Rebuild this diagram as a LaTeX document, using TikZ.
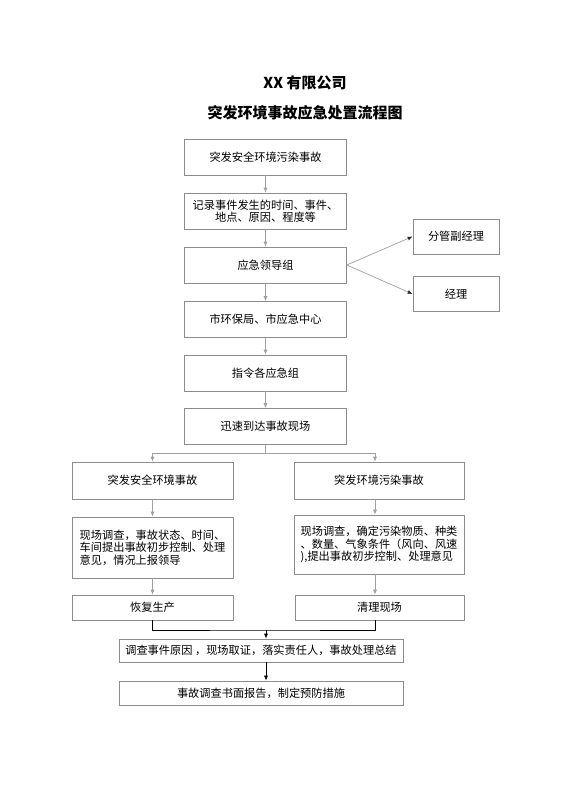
\documentclass[tikz,border=0pt]{standalone}
\usepackage{fontspec}
\newfontfamily\cjk{Noto Sans CJK SC}
\usetikzlibrary{arrows.meta}

\definecolor{boxline}{HTML}{8C8C8C}
\definecolor{linkline}{HTML}{A0A0A0}

\tikzset{
  box/.style={draw=boxline, line width=0.7pt, minimum width=162pt, minimum height=36pt,
    inner sep=2pt, align=center, font=\cjk\fontsize{11.2}{12.5}\selectfont},
  heading/.style={font=\cjk\bfseries\fontsize{15}{18}\selectfont},
  link/.style={draw=linkline, line width=0.7pt, -{Latex[length=5pt,width=4pt]}},
  sidelink/.style={draw=linkline, line width=0.7pt, -{Latex[length=5pt,width=4pt,color=black!85]}},
  flow/.style={draw=black, line width=0.7pt, -{Latex[length=5pt,width=4pt]}},
}

\begin{document}
\begin{tikzpicture}[x=1pt,y=-1pt]
    \useasboundingbox[fill=white] (0,0) rectangle (560,792);

    \node[heading] (company) at (305,83) {XX 有限公司};
    \node[heading] (title) at (305,113) {突发环境事故应急处置流程图};

    \node[box] (event) at (265.5,157) {突发安全环境污染事故};
    \node[box] (record) at (265.5,211) {记录事件发生的时间、事件、\\地点、原因、程度等};
    \node[box] (lead) at (265.5,265) {应急领导组};
    \node[box] (city) at (265.5,319.5) {市环保局、市应急中心};
    \node[box] (order) at (265.5,373) {指令各应急组};
    \node[box] (arrive) at (265.5,426.5) {迅速到达事故现场};

    \node[box, minimum width=86pt, minimum height=35pt] (deputy) at (456,236.5) {分管副经理};
    \node[box, minimum width=86pt, minimum height=35pt] (manager) at (456,294) {经理};

    \node[box, minimum width=161pt, minimum height=37pt] (safety) at (152.5,480.5) {突发安全环境事故};
    \node[box, minimum width=170pt, minimum height=37pt] (pollute) at (379,480.5) {突发环境污染事故};
    \node[box, minimum width=161pt, minimum height=61pt, align=left] (survey) at (152.5,547.5)
      {现场调查，事故状态、时间、\\车间提出事故初步控制、处理\\意见，情况上报领导};
    \node[box, minimum width=170pt, minimum height=59pt, align=left] (check) at (379,544.5)
      {现场调查，确定污染物质、种类\\、数量、气象条件（风向、风速\\),提出事故初步控制、处理意见};
    \node[box, minimum width=161pt, minimum height=25pt] (resume) at (152.5,607.5) {恢复生产};
    \node[box, minimum width=169pt, minimum height=25pt] (clean) at (379.5,607.5) {清理现场};

    \node[box, minimum width=284pt, minimum height=23pt] (cause) at (261,650.5)
      {调查事件原因 ，现场取证，落实责任人，事故处理总结};
    \node[box, minimum width=284pt, minimum height=24pt] (report) at (261,693)
      {事故调查书面报告，制定预防措施};

    \coordinate (split) at (265.5,453);
    \coordinate (rcol) at (375,453);
    \coordinate (merge) at (266,630);

    \draw[link] (event) -- (record);
    \draw[link] (record) -- (lead);
    \draw[link] (lead) -- (city);
    \draw[link] (city) -- (order);
    \draw[link] (order) -- (arrive);

    \draw[sidelink] (lead.east) -- (deputy.west);
    \draw[sidelink] (lead.east) -- (manager.west);

    \draw[draw=linkline, line width=0.7pt] (arrive.south) -- (split);
    \draw[draw=linkline, line width=0.7pt] (split -| safety) -- (rcol);
    \draw[link] (split -| safety) -- (safety.north);
    \draw[link] (rcol) -- (pollute.north -| rcol);

    \draw[link] (safety) -- (survey);
    \draw[link] (survey) -- (resume);
    \draw[link] (pollute.south -| rcol) -- (check.north -| rcol);
    \draw[link] (check.south -| rcol) -- (clean.north -| rcol);

    \draw[draw=black, line width=0.7pt] (resume.south) |- (merge) -| (clean.south -| rcol);
    \draw[flow] (merge) -- (cause.north -| merge);
    \draw[flow] (cause.south -| merge) -- (report.north -| merge);
\end{tikzpicture}
\end{document}
